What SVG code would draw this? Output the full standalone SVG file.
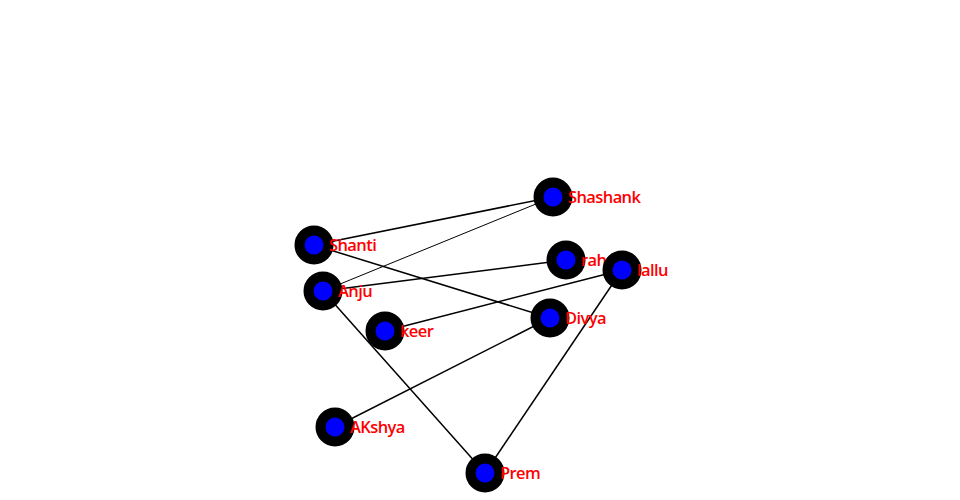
<svg xmlns="http://www.w3.org/2000/svg" width="960" height="500" viewBox="0 0 960 500">
<style>
.e{stroke:#000;stroke-width:1.5;fill:none}
.n circle{fill:#0000ff;stroke:#000;stroke-width:10}
.n text{fill:#ff0000;font-family:"Open Sans","Noto Sans",sans-serif;font-size:16.5px;font-weight:600;letter-spacing:-0.6px}
</style>
<rect width="960" height="500" fill="#fff"/>
<g id="edges">
<line class="e" x1="553" y1="197" x2="314" y2="245"/>
<line class="e" x1="553" y1="197" x2="323" y2="291" style="stroke-width:1"/>
<line class="e" x1="314" y1="245" x2="550" y2="318"/>
<line class="e" x1="323" y1="291" x2="566" y2="260"/>
<line class="e" x1="323" y1="291" x2="485" y2="473"/>
<line class="e" x1="385" y1="331" x2="622" y2="270"/>
<line class="e" x1="550" y1="318" x2="335" y2="427"/>
<line class="e" x1="622" y1="270" x2="485" y2="473"/>
</g>
<g id="node-shashank" class="n"><circle cx="553" cy="197" r="14.5"/><text x="568" y="203">Shashank</text></g>
<g id="node-shanti" class="n"><circle cx="314" cy="245" r="14.5"/><text x="329" y="251">Shanti</text></g>
<g id="node-rahul" class="n"><circle cx="566" cy="260" r="14.5"/><text x="581" y="266">rahul</text></g>
<g id="node-lallu" class="n"><circle cx="622" cy="270" r="14.5"/><text x="637" y="276">lallu</text></g>
<g id="node-anju" class="n"><circle cx="323" cy="291" r="14.5"/><text x="338" y="297">Anju</text></g>
<g id="node-keer" class="n"><circle cx="385" cy="331" r="14.5"/><text x="400" y="337">keer</text></g>
<g id="node-divya" class="n"><circle cx="550" cy="318" r="14.5"/><text x="565" y="324">Divya</text></g>
<g id="node-akshya" class="n"><circle cx="335" cy="427" r="14.5"/><text x="350" y="433">AKshya</text></g>
<g id="node-prem" class="n"><circle cx="485" cy="473" r="14.5"/><text x="500" y="479">Prem</text></g>
</svg>
